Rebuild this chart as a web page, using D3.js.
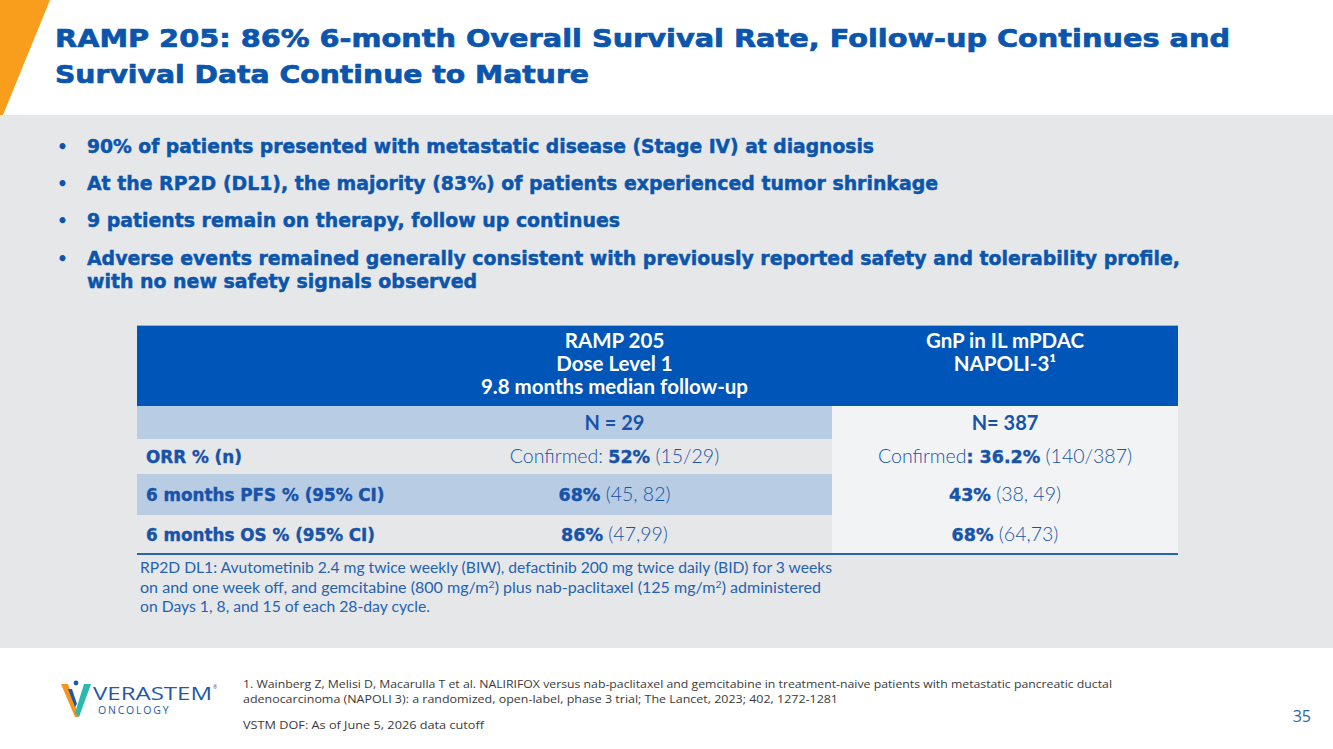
<!DOCTYPE html>
<html>
<head>
<meta charset="utf-8">
<script src="https://cdn.jsdelivr.net/npm/d3@7"></script>
<style>
  body { margin: 0; background: #fff; overflow: hidden; }
</style>
</head>
<body>
<div id="slide"></div>
<script>
const width = 1333
const height = 749

// ---- data ----
const titleLines = [
  'RAMP 205: 86% 6-month Overall Survival Rate, Follow-up Continues and',
  'Survival Data Continue to Mature'
]

const bullets = [
  ['90% of patients presented with metastatic disease (Stage IV) at diagnosis'],
  ['At the RP2D (DL1), the majority (83%) of patients experienced tumor shrinkage'],
  ['9 patients remain on therapy, follow up continues'],
  ['Adverse events remained generally consistent with previously reported safety and tolerability profile,',
   'with no new safety signals observed']
]

const columnHeads = [
  [],
  ['RAMP 205', 'Dose Level 1', '9.8 months median follow-up'],
  ['GnP in IL mPDAC', 'NAPOLI-3¹']
]
const sampleSizes = ['N = 29', 'N= 387']
const rowLabels = ['ORR % (n)', '6 months PFS % (95% CI)', '6 months OS % (95% CI)']
// [plain before, bold, plain after]
const rampCells = [
  ['Confirmed: ', '52%', ' (15/29)'],
  ['', '68%', ' (45, 82)'],
  ['', '86%', ' (47,99)']
]
const napoliCells = [
  ['Confirmed', ': 36.2%', ' (140/387)'],
  ['', '43%', ' (38, 49)'],
  ['', '68%', ' (64,73)']
]

// '^2' marks a superscript
const doseNote = [
  ['RP2D DL1: Avutometinib 2.4 mg twice weekly (BIW), defactinib 200 mg twice daily (BID) for 3 weeks'],
  ['on and one week off, and gemcitabine (800 mg/m', '^2', ') plus nab-paclitaxel (125 mg/m', '^2', ') administered'],
  ['on Days 1, 8, and 15 of each 28-day cycle.']
]

const references = [
  '1. Wainberg Z, Melisi D, Macarulla T et al. NALIRIFOX versus nab-paclitaxel and gemcitabine in treatment-naive patients with metastatic pancreatic ductal',
  'adenocarcinoma (NAPOLI 3): a randomized, open-label, phase 3 trial; The Lancet, 2023; 402, 1272-1281',
  'VSTM DOF: As of June 5, 2026 data cutoff'
]
const pageNumber = '35'

// ---- layout ----
const titleWidths = [1175, 534]
const bulletWidths = [787, 851, 533, 1093, 390]
const noteWidths = [692, 681, 290]
const refWidths = [869, 595, 241]

const blue = '#0b55ad'
const textBlue = '#1753a8'
const boldFont = 'DejaVu Sans'
const bodyFont = 'Lato'

const fit = (sel, w) => sel.attr('textLength', w).attr('lengthAdjust', 'spacingAndGlyphs')
const heavy = (sel, w) => sel.attr('stroke', sel.attr('fill')).attr('stroke-width', w).attr('stroke-linejoin', 'round')

const svg = d3.select('#slide')
  .append('svg')
  .attr('width', width)
  .attr('height', height)

svg.append('rect').attr('width', width).attr('height', height).attr('fill', '#fff')
svg.append('rect')
  .attr('x', 0).attr('y', 115)
  .attr('width', width).attr('height', 533)
  .attr('fill', '#e6e7e9')
svg.append('path').attr('d', 'M0,0 L50,0 L3,115 L0,115 Z').attr('fill', '#f99d1c')

// title
svg.selectAll('.title')
  .data(titleLines)
  .join('text')
  .attr('class', 'title')
  .attr('x', 55)
  .attr('y', (d, i) => 47 + i * 36)
  .attr('font-family', boldFont)
  .attr('font-weight', 'bold')
  .attr('font-size', 25)
  .attr('fill', blue)
  .call(heavy, 0.7)
  .text(d => d)
  .each(function (d, i) { fit(d3.select(this), titleWidths[i]) })

// bullets
const bulletLines = bullets.flatMap(b => b.map((line, j) => ({ line, first: j === 0 })))
const bulletY = [153, 190, 227, 265, 288]

const bl = svg.selectAll('.bullet')
  .data(bulletLines)
  .join('g')
  .attr('class', 'bullet')
  .attr('font-family', boldFont)
  .attr('font-weight', 'bold')
  .attr('font-size', 20)
  .attr('fill', blue)

bl.filter(d => d.first)
  .append('text')
  .attr('x', 57)
  .attr('y', d => bulletY[bulletLines.indexOf(d)])
  .attr('font-size', 17)
  .text('•')

bl.append('text')
  .attr('x', 87)
  .attr('y', d => bulletY[bulletLines.indexOf(d)])
  .attr('stroke', blue)
  .attr('stroke-width', 0.5)
  .text(d => d.line)
  .each(function (d) { fit(d3.select(this), bulletWidths[bulletLines.indexOf(d)]) })

// table
const colWeights = [260, 435, 346]
const colEdges = [0, ...d3.cumsum(colWeights)]
const colX = d3.scaleLinear().domain([0, d3.sum(colWeights)]).range([137, 1178])
const colMid = i => colX((colEdges[i] + colEdges[i + 1]) / 2)

const rowWeights = [81, 33, 35, 41, 38]
const rowEdges = [0, ...d3.cumsum(rowWeights)]
const rowY = d3.scaleLinear().domain([0, d3.sum(rowWeights)]).range([325, 553])
const rowTop = i => rowY(rowEdges[i])
const rowH = i => rowY(rowEdges[i + 1]) - rowY(rowEdges[i])

const table = svg.append('g')

// header band
table.append('rect')
  .attr('x', colX(0)).attr('y', rowTop(0))
  .attr('width', colX(colEdges[3]) - colX(0)).attr('height', rowH(0))
  .attr('fill', '#0056b8')
table.append('line')
  .attr('x1', colX(0)).attr('x2', colX(colEdges[3]))
  .attr('y1', rowTop(0) + 0.5).attr('y2', rowTop(0) + 0.5)
  .attr('stroke', '#8fb0dc').attr('stroke-width', 1)

const bodyRows = d3.range(1, rowWeights.length)
const stripe = ['#b8cce4', '#e6e7e9', '#b8cce4', '#e6e7e9']

table.selectAll('.rowbg')
  .data(bodyRows)
  .join('rect')
  .attr('x', colX(0)).attr('y', d => rowTop(d))
  .attr('width', colX(colEdges[2]) - colX(0)).attr('height', d => rowH(d))
  .attr('fill', (d, i) => stripe[i])

table.append('rect')
  .attr('x', colX(colEdges[2])).attr('y', rowTop(1))
  .attr('width', colX(colEdges[3]) - colX(colEdges[2]))
  .attr('height', rowY(rowEdges[rowWeights.length]) - rowTop(1))
  .attr('fill', '#f2f3f4')

table.append('line')
  .attr('x1', colX(0)).attr('x2', colX(colEdges[3]))
  .attr('y1', rowY(rowEdges[rowWeights.length]) + 1).attr('y2', rowY(rowEdges[rowWeights.length]) + 1)
  .attr('stroke', '#2a62b8').attr('stroke-width', 2)

// header text
columnHeads.forEach((lines, c) => {
  table.selectAll('.head' + c)
    .data(lines)
    .join('text')
    .attr('x', colMid(c))
    .attr('y', (d, i) => rowTop(0) + 23 + i * 23)
    .attr('text-anchor', 'middle')
    .attr('font-family', bodyFont)
    .attr('font-weight', 'bold')
    .attr('font-size', 20.5)
    .attr('fill', '#fff')
    .text(d => d)
})

// N row
table.selectAll('.nsize')
  .data(sampleSizes)
  .join('text')
  .attr('x', (d, i) => colMid(i + 1))
  .attr('y', rowTop(1) + rowH(1) / 2 + 7)
  .attr('text-anchor', 'middle')
  .attr('font-family', bodyFont)
  .attr('font-weight', 'bold')
  .attr('font-size', 20)
  .attr('fill', textBlue)
  .text(d => d)

// row labels
table.selectAll('.label')
  .data(rowLabels)
  .join('text')
  .attr('x', colX(0) + 9)
  .attr('y', (d, i) => rowTop(i + 2) + rowH(i + 2) / 2 + 6.5)
  .attr('font-family', boldFont)
  .attr('font-weight', 'bold')
  .attr('font-size', 16.8)
  .attr('fill', textBlue)
  .call(heavy, 0.4)
  .text(d => d)

// value cells
const drawCells = (cells, c) => {
  const t = table.selectAll('.cell' + c)
    .data(cells)
    .join('text')
    .attr('x', colMid(c))
    .attr('y', (d, i) => rowTop(i + 2) + rowH(i + 2) / 2 + 6.5)
    .attr('text-anchor', 'middle')
    .attr('fill', textBlue)
  t.append('tspan')
    .attr('font-family', bodyFont).attr('font-weight', 300).attr('font-size', 19.5)
    .text(d => d[0])
  t.append('tspan')
    .attr('font-family', boldFont).attr('font-weight', 'bold').attr('font-size', 17.5)
    .attr('stroke', textBlue).attr('stroke-width', 0.4)
    .text(d => d[1])
  t.append('tspan')
    .attr('font-family', bodyFont).attr('font-weight', 300).attr('font-size', 19.5)
    .text(d => d[2])
}
drawCells(rampCells, 1)
drawCells(napoliCells, 2)

// dose note
const isSup = p => p.startsWith('^')
const note = svg.selectAll('.note')
  .data(doseNote)
  .join('text')
  .attr('x', 140)
  .attr('y', (d, i) => 573 + i * 19.5)
  .attr('font-family', bodyFont)
  .attr('font-size', 14.5)
  .attr('fill', '#2463b0')
  .each(function (d, i) { fit(d3.select(this), noteWidths[i]) })

note.selectAll('tspan')
  .data(d => d)
  .join('tspan')
  .attr('font-size', p => isSup(p) ? 9.5 : null)
  .attr('dy', (p, j, n) => isSup(p) ? -5 : (j > 0 && isSup(n[j - 1].__data__) ? 5 : null))
  .text(p => isSup(p) ? p.slice(1) : p)

// logo
const logo = svg.append('g')
logo.append('path').attr('d', 'M61,684 L68,684 L79,717 L75,717 Z').attr('fill', '#f7941d')
logo.append('path').attr('d', 'M84,684 L91,684 L79,717 L75,713 Z').attr('fill', '#2bb8ad')
logo.append('path').attr('d', 'M68,689 L72,689 L77,704 L75,707 Z').attr('fill', '#1f5aa6')
logo.append('circle').attr('cx', 76).attr('cy', 683).attr('r', 2.4).attr('fill', '#1f5aa6')
logo.append('text')
  .attr('x', 93).attr('y', 700)
  .attr('font-family', 'Open Sans').attr('font-weight', 500).attr('font-size', 18)
  .attr('fill', '#1f5aa6')
  .text('VERASTEM')
  .call(fit, 119)
logo.append('text')
  .attr('x', 213).attr('y', 689)
  .attr('font-family', 'Open Sans').attr('font-size', 5)
  .attr('fill', '#1f5aa6')
  .text('®')
logo.append('text')
  .attr('x', 98).attr('y', 714)
  .attr('font-family', 'Open Sans').attr('font-size', 10.5)
  .attr('letter-spacing', 1.8)
  .attr('fill', '#1f5aa6')
  .text('ONCOLOGY')

// references
svg.selectAll('.ref')
  .data(references)
  .join('text')
  .attr('x', 243)
  .attr('y', (d, i) => [688, 703, 729][i])
  .attr('font-family', 'Open Sans')
  .attr('font-size', 11)
  .attr('fill', '#3a3a3a')
  .text(d => d)
  .each(function (d, i) { fit(d3.select(this), refWidths[i]) })

svg.append('text')
  .attr('x', 1311).attr('y', 722)
  .attr('text-anchor', 'end')
  .attr('font-family', 'Open Sans')
  .attr('font-size', 16)
  .attr('fill', '#2c64b2')
  .text(pageNumber)
</script>
</body>
</html>
